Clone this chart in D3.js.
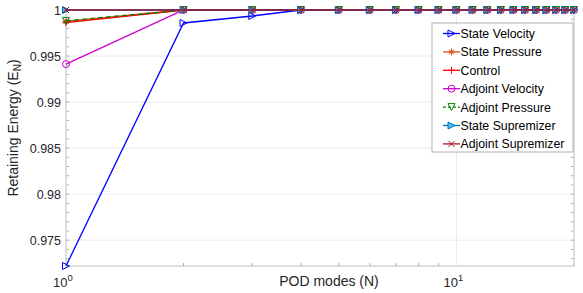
<!DOCTYPE html>
<head>
<style type="text/css">
    body {
      font-family: "Liberation Sans", Arial, sans-serif;
      margin: 0;
      background: #fff;
    }
</style>
</head>
<script src="https://d3js.org/d3.v7.min.js"></script>
<body>
    <svg width="583" height="293"></svg>
    <script>
        var modes = d3.range(1, 21);
        var stateVelocity = [0.9722, 0.99859, 0.99935, 1, 1, 1, 1, 1, 1, 1, 1, 1, 1, 1, 1, 1, 1, 1, 1, 1];
        var statePressure = [0.99875, 1, 1, 1, 1, 1, 1, 1, 1, 1, 1, 1, 1, 1, 1, 1, 1, 1, 1, 1];
        var control = [0.99862, 1, 1, 1, 1, 1, 1, 1, 1, 1, 1, 1, 1, 1, 1, 1, 1, 1, 1, 1];
        var adjointVelocity = [0.99413, 1, 1, 1, 1, 1, 1, 1, 1, 1, 1, 1, 1, 1, 1, 1, 1, 1, 1, 1];
        var adjointPressure = [0.99882, 1, 1, 1, 1, 1, 1, 1, 1, 1, 1, 1, 1, 1, 1, 1, 1, 1, 1, 1];
        var stateSupremizer = [1, 1, 1, 1, 1, 1, 1, 1, 1, 1, 1, 1, 1, 1, 1, 1, 1, 1, 1, 1];
        var adjointSupremizer = [1, 1, 1, 1, 1, 1, 1, 1, 1, 1, 1, 1, 1, 1, 1, 1, 1, 1, 1, 1];
        var yTicks = [0.975, 0.98, 0.985, 0.99, 0.995, 1];

        var series = [
            {name: "State Velocity", values: stateVelocity, color: "#0000ff", marker: "tri", fill: "none"},
            {name: "State Pressure", values: statePressure, color: "#D95319", marker: "star"},
            {name: "Control", values: control, color: "#ff0000", marker: "plus"},
            {name: "Adjoint Velocity", values: adjointVelocity, color: "#cc00cc", marker: "circle"},
            {name: "Adjoint Pressure", values: adjointPressure, color: "#008000", marker: "down", dash: "5,3"},
            {name: "State Supremizer", values: stateSupremizer, color: "#0072BD", marker: "tri", fill: "#4DBEEE"},
            {name: "Adjoint Supremizer", values: adjointSupremizer, color: "#A2142F", marker: "x"}
        ];

        var pL = 66, pR = 574, pT = 10, pB = 266;

        var x = d3.scaleLog().domain([1, 20]).range([pL, pR]);
        var y = d3.scaleLinear().domain([0.9722, 1]).range([pB, pT]);

        var svg = d3.select("svg");

        // grid
        var g = svg.append("g");
        g.selectAll(".gy").data(yTicks).enter().append("line")
            .attr("x1", pL).attr("x2", pR)
            .attr("y1", function(d) { return y(d); }).attr("y2", function(d) { return y(d); })
            .style("stroke", "#ebebeb");
        g.append("line").attr("x1", x(10)).attr("x2", x(10)).attr("y1", pT).attr("y2", pB)
            .style("stroke", "#ebebeb");

        // minor ticks
        var yMinor = d3.range(0.973, 1.0001, 0.001);
        var xMinor = [2, 3, 4, 5, 6, 7, 8, 9, 20];
        yMinor.forEach(function(v) {
            g.append("line").attr("x1", pL).attr("x2", pL + 3).attr("y1", y(v)).attr("y2", y(v)).style("stroke", "#b0b0b0");
            g.append("line").attr("x1", pR).attr("x2", pR - 3).attr("y1", y(v)).attr("y2", y(v)).style("stroke", "#b0b0b0");
        });
        xMinor.forEach(function(v) {
            g.append("line").attr("x1", x(v)).attr("x2", x(v)).attr("y1", pB).attr("y2", pB - 3).style("stroke", "#b0b0b0");
            g.append("line").attr("x1", x(v)).attr("x2", x(v)).attr("y1", pT).attr("y2", pT + 3).style("stroke", "#b0b0b0");
        });

        // axes
        var yAxis = svg.append("g").attr("transform", "translate(" + pL + ",0)")
            .call(d3.axisLeft(y).tickValues(yTicks).tickSize(0).tickPadding(5)
                .tickFormat(function(d) { return d === 1 ? "1" : d3.format(".3~f")(d); }));
        yAxis.select(".domain").remove();
        yAxis.selectAll("text").style("font-size", "12.5px").style("fill", "#262626");

        svg.append("rect").attr("x", pL).attr("y", pT).attr("width", pR - pL).attr("height", pB - pT)
            .style("fill", "none").style("stroke", "#c0c0c0");

        [1, 10].forEach(function(d, i) {
            var t = svg.append("text").attr("x", x(d) - 3).attr("y", 287).attr("text-anchor", "middle")
                .style("font-size", "13px").style("fill", "#262626").text("10");
            t.append("tspan").attr("dy", -6).style("font-size", "9.5px").text(i);
        });

        svg.append("text").attr("x", 329).attr("y", 286).attr("text-anchor", "middle")
            .style("font-size", "14px").style("fill", "#262626").text("POD modes (N)");

        var yl = svg.append("text").attr("transform", "translate(18," + 128 + ") rotate(-90)")
            .attr("text-anchor", "middle").style("font-size", "14px").style("fill", "#262626");
        yl.append("tspan").text("Retaining Energy (E");
        yl.append("tspan").attr("dy", 3).style("font-size", "10px").text("N");
        yl.append("tspan").attr("dy", -3).text(")");

        function marker(sel, s, cx, cy) {
            var r = 3.5, st = sel.append("g").attr("transform", "translate(" + cx + "," + cy + ")")
                .style("stroke", s.color).style("fill", "none").style("stroke-width", 1);
            if (s.marker === "tri") {
                st.append("path").attr("d", "M" + (-r) + "," + (-r) + "L" + r + ",0L" + (-r) + "," + r + "Z")
                    .style("fill", s.fill || "none");
            } else if (s.marker === "down") {
                st.append("path").attr("d", "M" + (-r) + "," + (-r) + "L" + r + "," + (-r) + "L0," + r + "Z");
            } else if (s.marker === "circle") {
                st.append("circle").attr("r", r);
            } else if (s.marker === "plus") {
                st.append("path").attr("d", "M" + (-r) + ",0H" + r + "M0," + (-r) + "V" + r);
            } else if (s.marker === "x") {
                st.append("path").attr("d", "M-3,-3L3,3M-3,3L3,-3");
            } else if (s.marker === "star") {
                st.append("path").attr("d", "M" + (-r) + ",0H" + r + "M0," + (-r) + "V" + r + "M-2.5,-2.5L2.5,2.5M-2.5,2.5L2.5,-2.5");
            }
        }

        var line = d3.line()
            .x(function(d, i) { return x(modes[i]); })
            .y(function(d) { return y(d); });

        series.forEach(function(s) {
            var sg = svg.append("g");
            sg.append("path").datum(s.values).attr("d", line)
                .style("fill", "none").style("stroke", s.color).style("stroke-width", 1.3)
                .style("stroke-dasharray", s.dash || null);
            s.values.forEach(function(v, i) { marker(sg, s, x(modes[i]), y(v)); });
        });

        // legend
        var lg = svg.append("g").attr("transform", "translate(432,23)");
        lg.append("rect").attr("width", 141).attr("height", 129)
            .style("fill", "#fff").style("stroke", "#b0b0b0");
        series.forEach(function(s, i) {
            var ly = 10.5 + i * 18.4;
            lg.append("line").attr("x1", 11).attr("x2", 28).attr("y1", ly).attr("y2", ly)
                .style("stroke", s.color).style("stroke-width", 1.3).style("stroke-dasharray", s.dash ? "3,2" : null);
            marker(lg, s, 19.5, ly);
            lg.append("text").attr("x", 28.5).attr("y", ly + 4.5).style("font-size", "12.3px").style("fill", "#000").text(s.name);
        });
    </script>
</body>
